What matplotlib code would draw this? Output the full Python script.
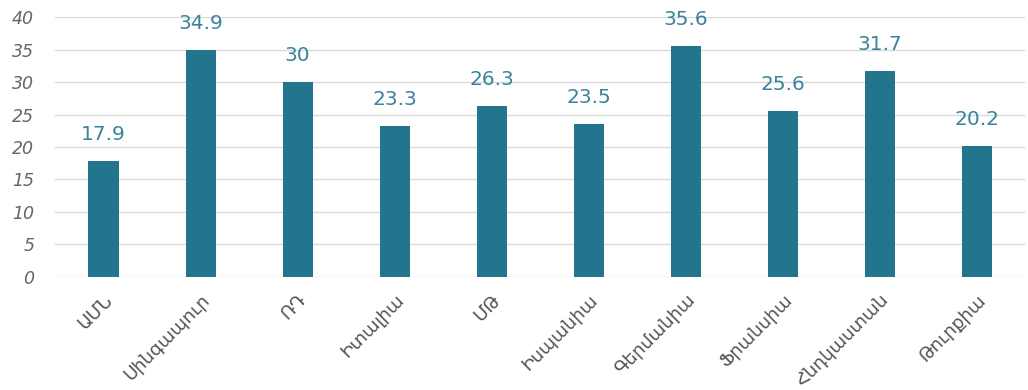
import matplotlib
matplotlib.use('Agg')
import matplotlib.pyplot as plt
import numpy as np

countries = ['ԱՄՆ', 'Սինգապուր', 'ՌԴ', 'Իտալիա', 'ՄԹ', 'Իսպանիա',
             'Գերմանիա', 'Ֆրանսիա', 'Հնդկաստան', 'Թուրքիա']
values = [17.9, 34.9, 30, 23.3, 26.3, 23.5, 35.6, 25.6, 31.7, 20.2]
yticks = [0, 5, 10, 15, 20, 25, 30, 35, 40]

bar_color = '#23748d'
text_color = '#3a839c'

plt.rcParams['font.family'] = ['DejaVu Sans']

fig = plt.figure(figsize=(10.28, 3.9), dpi=100)
ax = fig.add_axes([0.0535, 0.29, 0.944, 0.666])

x = np.arange(len(countries))
ax.bar(x, values, width=0.31, color=bar_color, zorder=3)

for xi, v in zip(x, values):
    ax.text(xi, v + 2.6, f'{v:g}', ha='center', va='bottom',
            fontsize=14.5, color=text_color, zorder=4)

ax.set_xlim(-0.5, len(countries) - 0.5)
ax.set_ylim(0, 40)
ax.set_yticks(yticks)
ax.set_yticklabels([str(t) for t in yticks], fontsize=12.5, color='#666666', style='italic')
ax.yaxis.grid(True, color='#d9d9d9', linewidth=1, zorder=0)
ax.tick_params(axis='both', length=0)
ax.tick_params(axis='y', pad=15)

ax.set_xticks(x)
ax.set_xticklabels(countries, rotation=45, ha='right', rotation_mode='anchor',
                   fontsize=13, color='#555555')
ax.tick_params(axis='x', pad=10)

for s in ax.spines.values():
    s.set_visible(False)

fig.savefig('out.png', dpi=100)
